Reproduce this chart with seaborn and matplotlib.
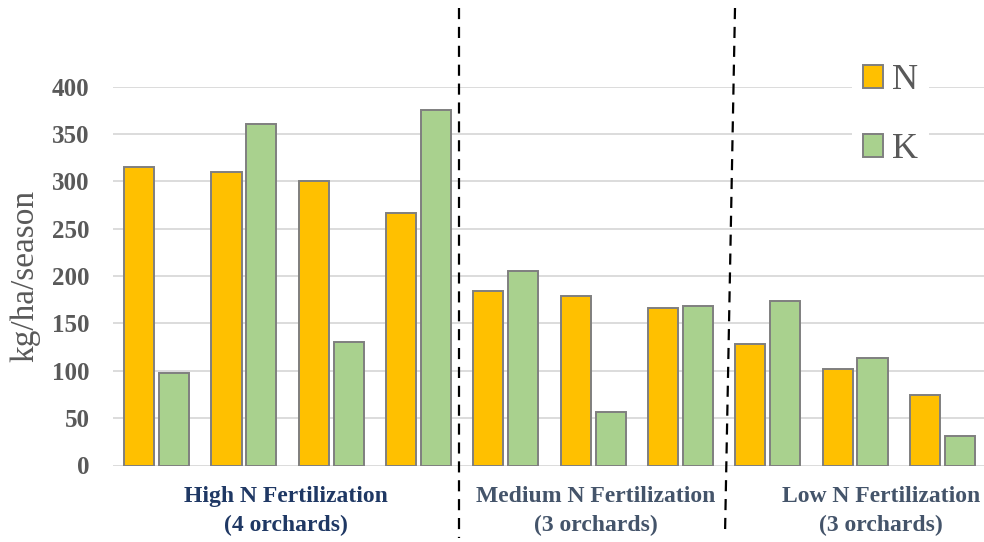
"""
Seasonal N and K uptake per orchard, grouped by N fertilization level.

Paired bars (N, K) for ten orchards, split into high / medium / low
fertilization groups by dashed dividers. Writes out.png.
"""

import matplotlib.pyplot as plt
import pandas as pd
import seaborn as sns
from matplotlib.lines import Line2D
from matplotlib.patches import Patch

orchards = ["H1", "H2", "H3", "H4", "M1", "M2", "M3", "L1", "L2", "L3"]
n_values = [315, 310, 300, 267, 184, 179, 166, 128, 102, 74]
k_values = [98, 360, 130, 375, 205, 56, 168, 174, 113, 31]
nutrients = ["N", "K"]
group_labels = ["High N Fertilization\n(4 orchards)",
                "Medium N Fertilization\n(3 orchards)",
                "Low N Fertilization\n(3 orchards)"]
y_ticks = [0, 50, 100, 150, 200, 250, 300, 350, 400]

W, H = 984, 542
GRAY = "#595959"
palette = {"N": "#FFC000", "K": "#A9D18E"}


def main() -> None:
    df = pd.DataFrame({
        "orchard": orchards * 2,
        "value": n_values + k_values,
        "nutrient": ["N"] * len(orchards) + ["K"] * len(orchards),
    })

    sns.set_style("white")
    plt.rcParams["font.family"] = ["Liberation Serif", "DejaVu Serif"]

    fig = plt.figure(figsize=(W / 100, H / 100), dpi=100)
    ax = fig.add_axes([113 / W, 1 - 465.5 / H, 873 / W, 379 / H])

    sns.barplot(ax=ax, data=df, x="orchard", y="value", hue="nutrient",
                hue_order=nutrients, palette=palette, saturation=1, width=0.8, gap=0.14,
                edgecolor="#7F7F7F", linewidth=1.4, legend=False, zorder=2)

    ax.set_ylim(0, 400)
    ax.set_xlim(-0.5, len(orchards) - 0.5)
    ax.set_yticks(y_ticks)
    ax.set_xticks([])
    ax.set_xlabel(None)
    ax.set_ylabel("kg/ha/season", fontsize=24, color=GRAY, labelpad=8)
    ax.yaxis.grid(True, color="#D9D9D9", linewidth=1.3)
    ax.set_axisbelow(True)
    for s in ax.spines.values():
        s.set_visible(False)
    ax.tick_params(axis="y", length=0, pad=17, labelsize=18, labelcolor=GRAY)
    for t in ax.get_yticklabels():
        t.set_fontweight("bold")

    handles = [Patch(facecolor=palette[k], edgecolor="#7F7F7F", linewidth=1.4) for k in nutrients]
    leg = ax.legend(handles, nutrients, loc="upper left", bbox_to_anchor=(852 / W, 1 - 53 / H),
                    bbox_transform=fig.transFigure, fontsize=26, frameon=True,
                    facecolor="white", edgecolor="none", framealpha=1, fancybox=False,
                    handlelength=0.55, handleheight=0.6, handletextpad=0.25,
                    labelspacing=1.0, borderpad=0.3, borderaxespad=0)
    for t in leg.get_texts():
        t.set_color(GRAY)

    # group captions under the axis
    label_x = [286, 596, 881]
    label_col = ["#1F3864", "#44546A", "#44546A"]
    for x, txt, c in zip(label_x, group_labels, label_col):
        fig.text(x / W, 1 - 511 / H, txt, ha="center", va="center", fontsize=17,
                 fontweight="bold", color=c, linespacing=1.5)

    # hand-drawn dashed dividers between groups
    for (x0, y0), (x1, y1) in [((459, 8), (459, 538)), ((735, 8), (725, 535))]:
        fig.add_artist(Line2D([x0 / W, x1 / W], [1 - y0 / H, 1 - y1 / H],
                              transform=fig.transFigure, color="black",
                              linewidth=1.6, linestyle=(0, (5, 3.5))))

    fig.savefig("out.png", dpi=100)
    plt.close(fig)


if __name__ == "__main__":
    main()
